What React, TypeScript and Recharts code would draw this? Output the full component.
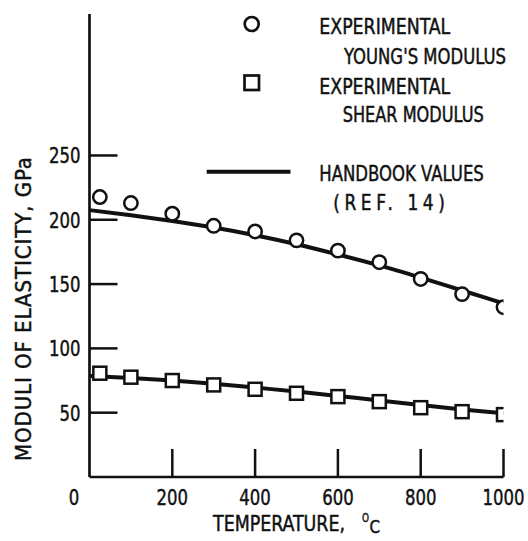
import React from "react";
import { ComposedChart, Line, Scatter, XAxis, YAxis, Label } from "recharts";

// ---- data ----
const EXP_TEMPS = [25, 100, 200, 300, 400, 500, 600, 700, 800, 900, 1000];
const YOUNG_EXP = [217.7, 213, 204.7, 195.3, 190.9, 184, 176, 167, 154, 142.2, 132];
const SHEAR_EXP = [80.7, 77.6, 75, 71.6, 68.2, 65.1, 62.5, 58.6, 53.9, 50.8, 48.5];

const HB_TEMPS = [0, 100, 200, 300, 400, 500, 600, 700, 800, 900, 1000];
const YOUNG_HB = [207.5, 203.5, 199, 194, 188, 181, 173, 164.5, 155, 145, 135];
const SHEAR_HB = [78.5, 77, 75, 72.5, 69.5, 66.5, 63, 59.5, 56, 52.5, 49.5];

const X_TICKS = [0, 200, 400, 600, 800, 1000];
const Y_TICKS = [50, 100, 150, 200, 250];

const X_TITLE = "TEMPERATURE,";
const X_UNIT_SUP = "O";
const X_UNIT = "C";
const Y_TITLE = "MODULI OF ELASTICITY, GPa";

const LEGEND_YOUNG = ["EXPERIMENTAL", "YOUNG'S MODULUS"];
const LEGEND_SHEAR = ["EXPERIMENTAL", "SHEAR MODULUS"];
const LEGEND_HB = ["HANDBOOK VALUES", "(REF. 14)"];

const toPts = (xs: number[], ys: number[]) => xs.map((t, i) => ({ t, v: ys[i] }));

const youngExp = toPts(EXP_TEMPS, YOUNG_EXP);
const shearExp = toPts(EXP_TEMPS, SHEAR_EXP);
const youngHb = toPts(HB_TEMPS, YOUNG_HB);
const shearHb = toPts(HB_TEMPS, SHEAR_HB);

const FONT = "'DejaVu Sans Condensed', 'DejaVu Sans', sans-serif";
const INK = "#111";
const DIGIT_W = 10.5;

// condensed text: horizontal scale + exact target width
const SText = (p: {
  x: number;
  y: number;
  w: number;
  sx?: number;
  size: number;
  anchor?: "start" | "middle" | "end";
  dy?: string;
  rot?: number;
  adjust?: "spacing" | "spacingAndGlyphs";
  children: string;
}) => {
  const sx = p.sx ?? 0.86;
  const rot = p.rot ? ` rotate(${p.rot})` : "";
  return (
    <text
      transform={`translate(${p.x} ${p.y})${rot} scale(${sx} 1)`}
      x={0}
      y={0}
      dy={p.dy}
      textAnchor={p.anchor ?? "start"}
      fontFamily={FONT}
      fontSize={p.size}
      fill={INK}
      stroke={INK}
      strokeWidth={0.45}
      textLength={p.w / sx}
      lengthAdjust={p.adjust ?? "spacingAndGlyphs"}
    >
      {p.children}
    </text>
  );
};

const XTick = (props: any) => {
  const { x, y, payload } = props;
  const dx = payload.value === 0 ? -15.5 : 0;
  const s = String(payload.value);
  return (
    <g>
      {payload.value !== 0 && (
        <line x1={x} x2={x} y1={y} y2={y - 28} stroke={INK} strokeWidth={2.5} />
      )}
      <SText x={x + dx} y={y + 28} w={s.length * DIGIT_W} sx={0.83} size={22} anchor="middle">
        {s}
      </SText>
    </g>
  );
};

const YTick = (props: any) => {
  const { x, y, payload } = props;
  const s = String(payload.value);
  return (
    <g>
      <line x1={x} x2={x + 28} y1={y} y2={y} stroke={INK} strokeWidth={2.5} />
      <SText x={x - 9} y={y} dy="0.36em" w={s.length * DIGIT_W} sx={0.83} size={22} anchor="end">
        {s}
      </SText>
    </g>
  );
};

const XTitle = (props: any) => {
  const vb = props.viewBox || { x: 89.5, y: 477, width: 414 };
  const cx = vb.x + vb.width / 2;
  const base = vb.y + 54;
  return (
    <g>
      <SText x={cx - 83.5} y={base} w={132} size={22}>{X_TITLE}</SText>
      <SText x={cx + 65.5} y={base - 9} w={7} size={12}>{X_UNIT_SUP}</SText>
      <SText x={cx + 73} y={base + 2} w={10.5} size={18}>{X_UNIT}</SText>
    </g>
  );
};

const YTitle = (props: any) => {
  const vb = props.viewBox || { x: 0, y: 14 };
  const cx = vb.x + 23.5;
  const cy = vb.y + 295;
  return (
    <SText x={cx} y={cy} dy="0.36em" rot={-90} w={304} sx={1} size={22} anchor="middle" adjust="spacing">
      {Y_TITLE}
    </SText>
  );
};

const CircleShape = (props: any) => (
  <circle cx={props.cx} cy={props.cy} r={6.7} fill="#fff" stroke={INK} strokeWidth={2.5} />
);
const SquareShape = (props: any) => (
  <rect x={props.cx - 6.5} y={props.cy - 6.5} width={13} height={13} fill="#fff" stroke={INK} strokeWidth={2.5} />
);

const LegendOverlay = () => (
  <svg width={528} height={230} style={{ position: "absolute", left: 0, top: 0, pointerEvents: "none" }}>
    <circle cx={251.7} cy={24} r={7} fill="#fff" stroke={INK} strokeWidth={2.7} />
    <SText x={319.3} y={33.5} w={131} size={21}>{LEGEND_YOUNG[0]}</SText>
    <SText x={344} y={63.5} w={162} size={21}>{LEGEND_YOUNG[1]}</SText>
    <rect x={244.5} y={75.5} width={14.5} height={14.5} fill="#fff" stroke={INK} strokeWidth={2.7} />
    <SText x={319.3} y={93.5} w={131} size={21}>{LEGEND_SHEAR[0]}</SText>
    <SText x={342.7} y={122} w={141} size={21}>{LEGEND_SHEAR[1]}</SText>
    <line x1={206.7} x2={290.5} y1={171.7} y2={171.7} stroke={INK} strokeWidth={4} />
    <SText x={319.3} y={181} w={164.5} size={21}>{LEGEND_HB[0]}</SText>
    <SText x={333.3} y={210} w={111.5} sx={0.9} size={21} adjust="spacing">{LEGEND_HB[1]}</SText>
  </svg>
);

export default function App() {
  return (
    <div style={{ position: "absolute", left: 0, top: 0, width: 528, height: 541, background: "#fff" }}>
      <ComposedChart width={528} height={541} margin={{ top: 14, right: 24.5, left: 0, bottom: 0 }}>
        <XAxis
          type="number"
          dataKey="t"
          domain={[0, 1000]}
          ticks={X_TICKS}
          interval={0}
          height={64}
          tickSize={0}
          tickMargin={0}
          tickLine={false}
          tick={<XTick />}
          axisLine={{ stroke: INK, strokeWidth: 2.7 }}
          allowDataOverflow
        >
          <Label content={<XTitle />} />
        </XAxis>
        <YAxis
          type="number"
          domain={[0, 360]}
          ticks={Y_TICKS}
          interval={0}
          width={89.5}
          tickSize={0}
          tickMargin={0}
          tickLine={false}
          tick={<YTick />}
          axisLine={{ stroke: INK, strokeWidth: 2.7 }}
          allowDataOverflow
        >
          <Label content={<YTitle />} />
        </YAxis>
        <Line
          data={youngHb}
          dataKey="v"
          type="monotone"
          stroke={INK}
          strokeWidth={4}
          dot={false}
          activeDot={false}
          isAnimationActive={false}
        />
        <Line
          data={shearHb}
          dataKey="v"
          type="monotone"
          stroke={INK}
          strokeWidth={4}
          dot={false}
          activeDot={false}
          isAnimationActive={false}
        />
        <Scatter data={youngExp} dataKey="v" shape={<CircleShape />} isAnimationActive={false} />
        <Scatter data={shearExp} dataKey="v" shape={<SquareShape />} isAnimationActive={false} />
      </ComposedChart>
      <LegendOverlay />
    </div>
  );
}
